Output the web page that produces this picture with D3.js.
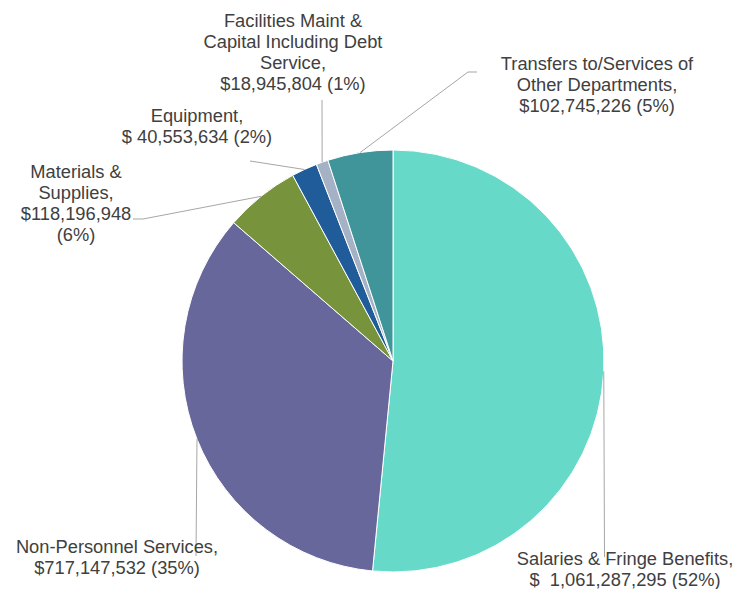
<!DOCTYPE html>
<html lang="en">
<head>
<meta charset="UTF-8">
<title>Budget by Category</title>
<style>
    body { margin: 0; padding: 0; background: #ffffff; }
    #chart svg { display: block; }
    .lbl { font-family: Arial, "Liberation Sans", sans-serif; font-size: 18.3px; fill: #404040; white-space: pre; }
</style>
</head>
<body>
<div id="chart"></div>
<script src="https://d3js.org/d3.v7.min.js"></script>
<script>
    // Data
    const categories = [
        'Salaries & Fringe Benefits',
        'Non-Personnel Services',
        'Materials & Supplies',
        'Equipment',
        'Facilities Maint & Capital Including Debt Service',
        'Transfers to/Services of Other Departments'
    ];
    const amounts = [1061287295, 717147532, 118196948, 40553634, 18945804, 102745226];
    const percents = ['52%', '35%', '6%', '2%', '1%', '5%'];
    const labelLines = [
        ['Salaries & Fringe Benefits,', '$  1,061,287,295 (52%)'],
        ['Non-Personnel Services,', '$717,147,532 (35%)'],
        ['Materials &', 'Supplies,', '$118,196,948', '(6%)'],
        ['Equipment,', '$ 40,553,634 (2%)'],
        ['Facilities Maint &', 'Capital Including Debt', 'Service,', '$18,945,804 (1%)'],
        ['Transfers to/Services of', 'Other Departments,', '$102,745,226 (5%)']
    ];
    const colors = ['#66d9c8', '#67679b', '#77933c', '#1f5c99', '#a5b2c5', '#3f9599'];

    // Layout
    const width = 739, height = 589;
    const cx = 393, cy = 361, radius = 211;
    const lineH = 21;
    // label block: x centre, y of first line centre
    const labelPos = [
        { x: 625, y: 558 },
        { x: 117, y: 546 },
        { x: 76, y: 171 },
        { x: 197, y: 115 },
        { x: 293, y: 20 },
        { x: 597, y: 63 }
    ];
    // leader line end points (elbow, end)
    const leaderEnds = [
        [[604.5, 557]],
        [[196, 556]],
        [[143, 219], [133, 219]],
        [[250, 161]],
        [[322, 100]],
        [[468, 72], [477, 72]]
    ];

    const svg = d3.select('#chart').append('svg')
        .attr('width', width)
        .attr('height', height);

    const g = svg.append('g')
        .attr('transform', `translate(${cx},${cy})`);

    const pie = d3.pie().sort(null).value(d => d)(amounts);
    const arc = d3.arc().innerRadius(0).outerRadius(radius);

    g.selectAll('path.slice')
        .data(pie)
        .join('path')
        .attr('class', 'slice')
        .attr('d', arc)
        .attr('fill', (d, i) => colors[i])
        .attr('stroke', '#ffffff')
        .attr('stroke-width', 1);

    // leader lines start at slice mid angle on the rim
    const leader = d3.line();
    svg.selectAll('path.leader')
        .data(pie)
        .join('path')
        .attr('class', 'leader')
        .attr('fill', 'none')
        .attr('stroke', '#a6a6a6')
        .attr('stroke-width', 1)
        .attr('d', (d, i) => {
            const a = (d.startAngle + d.endAngle) / 2;
            const start = [cx + radius * Math.sin(a), cy - radius * Math.cos(a)];
            return leader([start, ...leaderEnds[i]]);
        });

    // labels
    const labels = svg.selectAll('text.lbl')
        .data(labelLines)
        .join('text')
        .attr('class', 'lbl')
        .attr('text-anchor', 'middle');

    labels.each(function (lines, i) {
        d3.select(this).selectAll('tspan')
            .data(lines)
            .join('tspan')
            .attr('x', labelPos[i].x)
            .attr('y', (d, j) => labelPos[i].y + j * lineH + 6.5)
            .text(d => d);
    });
</script>
</body>
</html>
